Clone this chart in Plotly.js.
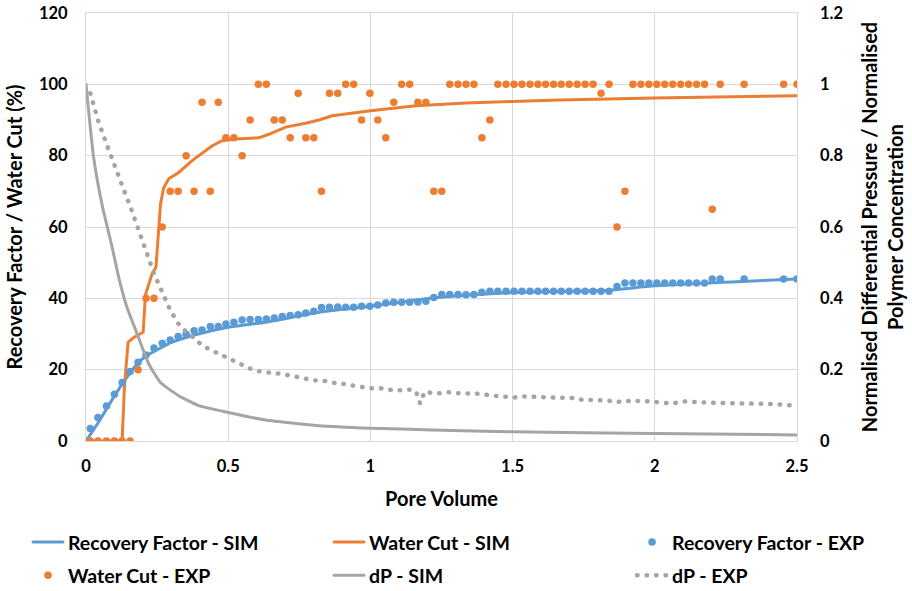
<!DOCTYPE html>
<html><head><meta charset="utf-8">
<script src="https://cdn.plot.ly/plotly-3.0.1.min.js"></script>
<style>
html,body{margin:0;padding:0;background:#fff;}
#chart{width:912px;height:591px;}
path.js-line{stroke-linecap:round;}
</style>
</head><body><div id="chart"></div>
<script>
// Pore volume of experimental samples (shared by RF and WC experiments)
var expPV = [0.015,0.042,0.072,0.100,0.127,0.155,0.183,0.211,0.239,0.268,
  0.296,0.324,0.352,0.380,0.408,0.437,0.465,0.492,0.520,0.549,
  0.577,0.606,0.634,0.662,0.690,0.718,0.746,0.773,0.801,0.828,
  0.856,0.885,0.913,0.941,0.969,0.998,1.026,1.054,1.082,1.110,
  1.138,1.167,1.195,1.223,1.251,1.279,1.308,1.336,1.364,1.392,
  1.420,1.448,1.477,1.505,1.533,1.561,1.589,1.616,1.644,1.671,
  1.699,1.727,1.755,1.783,1.811,1.839,1.867,1.895,1.923,1.951,
  1.979,2.007,2.035,2.063,2.091,2.119,2.147,2.175,2.202,2.230,
  2.314,2.453,2.500];
var rfExp = [3.5,6.6,9.8,13.1,16.4,19.5,22.1,24.1,26.1,27.4,
  28.3,29.3,29.9,30.9,31.1,32.1,32.1,32.8,33.3,33.9,
  34.1,34.1,34.2,34.5,34.9,35.2,35.4,35.9,36.4,37.4,
  37.5,37.6,37.5,37.5,37.8,37.8,38.1,38.7,38.9,38.9,
  38.9,39.0,39.2,40.2,41.1,41.1,41.1,41.0,41.1,41.7,
  42.0,42.0,42.0,42.0,42.0,42.0,42.0,42.0,42.0,42.0,
  42.0,42.0,42.0,42.0,42.0,42.0,43.3,44.3,44.3,44.3,
  44.3,44.3,44.3,44.3,44.3,44.3,44.3,44.3,45.4,45.4,
  45.4,45.4,45.4];
var wcExp = [0,0,0,0,0,0,20,40,40,60,
  70,70,80,70,95,70,95,85,85,80,
  90,100,100,90,90,85,97.5,85,85,70,
  97.5,97.5,100,100,90,97.5,90,85,95,100,
  100,95,95,70,70,100,100,100,100,85,
  90,100,100,100,100,100,100,100,100,100,
  100,100,100,100,97.5,100,60,70,100,100,
  100,100,100,100,100,100,100,100,65,100,
  100,100,100];

var rfSimPV = [0,0.045,0.092,0.138,0.185,0.215,0.244,0.303,0.385,0.5,0.631,0.819,1.0,1.218,1.5,1.839,2.0,2.5];
var rfSim = [0,5.4,11.6,17.2,22.1,24.0,25.3,27.7,29.8,31.9,33.3,36.1,37.8,40.1,41.6,42.3,43.5,45.4];

var wcSimPV = [0,0.127,0.135,0.148,0.168,0.191,0.201,0.209,0.232,0.246,0.256,0.262,0.273,0.291,0.326,0.373,0.444,0.479,0.526,0.608,0.643,0.702,0.772,0.819,0.866,1.0,1.16,1.336,1.5,1.664,2.0,2.5];
var wcSim = [0,0,15,27.7,29,30,30.5,41,46.8,48.7,60,66.4,71,73.5,75.3,78.6,82.8,84.2,84.7,85,86,88,89.1,90,91.2,92.6,94,94.8,95.2,95.6,96.2,96.8];

var dpSimPV = [0,0.01,0.026,0.056,0.092,0.115,0.144,0.18,0.221,0.262,0.326,0.397,0.5,0.631,0.819,1.0,1.218,1.5,2.0,2.5];
var dpSim = [1.0,0.92,0.80,0.664,0.543,0.459,0.375,0.30,0.216,0.164,0.127,0.099,0.080,0.059,0.043,0.036,0.031,0.026,0.021,0.017];

var dpExpPV = [0.015,0.042,0.072,0.100,0.127,0.155,0.183,0.211,0.239,0.268,
  0.296,0.324,0.352,0.380,0.408,0.437,0.465,0.492,0.520,0.549,
  0.577,0.606,0.634,0.662,0.690,0.718,0.746,0.775,0.803,0.828,
  0.856,0.885,0.913,0.941,0.969,0.998,1.026,1.054,1.082,1.110,
  1.138,1.160,1.175,1.190,1.223,1.251,1.279,1.308,1.336,1.364,
  1.392,1.420,1.448,1.477,1.505,1.533,1.561,1.589,1.617,1.645,
  1.671,1.699,1.727,1.755,1.783,1.811,1.839,1.867,1.895,1.923,
  1.951,1.979,2.007,2.035,2.063,2.091,2.119,2.147,2.175,2.202,
  2.230,2.258,2.286,2.314,2.342,2.370,2.398,2.426,2.453,2.482,2.500];
var dpExp = [0.975,0.90,0.833,0.778,0.717,0.659,0.595,0.533,0.47,0.417,
  0.367,0.33,0.306,0.289,0.268,0.256,0.246,0.234,0.223,0.213,
  0.203,0.196,0.192,0.190,0.188,0.183,0.178,0.173,0.170,0.169,
  0.167,0.160,0.160,0.155,0.150,0.148,0.148,0.147,0.141,0.142,
  0.144,0.140,0.105,0.138,0.134,0.134,0.137,0.134,0.134,0.134,
  0.132,0.128,0.126,0.126,0.122,0.125,0.124,0.121,0.121,0.121,
  0.121,0.122,0.117,0.114,0.115,0.115,0.113,0.109,0.113,0.111,
  0.113,0.111,0.109,0.107,0.105,0.111,0.111,0.110,0.108,0.107,
  0.107,0.106,0.106,0.105,0.104,0.104,0.104,0.103,0.101,0.100,0.101];

var BLUE = '#5B9BD5', ORANGE = '#ED7D31', GRAY = '#A5A5A5';
var FONT = 'Lato, "Open Sans", sans-serif';

var traces = [
  {name:'Recovery Factor - SIM', x:rfSimPV, y:rfSim, mode:'lines', line:{color:BLUE, width:3, shape:'spline', smoothing:0.6}, legend:'legend', legendgroup:'a'},
  {name:'Water Cut - SIM', x:wcSimPV, y:wcSim, mode:'lines', line:{color:ORANGE, width:3}, legend:'legend2', legendgroup:'b'},
  {name:'Recovery Factor - EXP', x:expPV, y:rfExp, mode:'markers', marker:{color:BLUE, size:7.5}, legend:'legend3', legendgroup:'c'},
  {name:'Water Cut - EXP', x:expPV, y:wcExp, mode:'markers', marker:{color:ORANGE, size:7.5}, legend:'legend', legendgroup:'d'},
  {name:'dP - SIM', x:dpSimPV, y:dpSim, yaxis:'y2', mode:'lines', line:{color:GRAY, width:3, shape:'spline', smoothing:0.5}, legend:'legend2', legendgroup:'e'},
  {name:'dP - EXP', x:dpExpPV, y:dpExp, yaxis:'y2', mode:'lines', line:{color:GRAY, width:4.5, dash:'0.5px,9px'}, legend:'legend3', legendgroup:'f'}
];

function leg(x){
  return {x:x, y:-0.191, xanchor:'left', yanchor:'top', orientation:'v', bgcolor:'rgba(0,0,0,0)',
    font:{family:FONT, size:19.5, color:'#000', weight:'bold'}, tracegroupgap:5, itemwidth:30};
}

var TF = {family:FONT, size:20, color:'#000', weight:'bold'};
var KF = {family:FONT, size:16.5, color:'#000', weight:'bold'};

var layout = {
  width:912, height:591,
  margin:{l:86, r:115, t:13, b:150, autoexpand:false},
  paper_bgcolor:'#fff', plot_bgcolor:'#fff',
  font:{family:FONT, size:16, color:'#000', weight:'bold'},
  showlegend:true,
  xaxis:{range:[0,2.5], dtick:0.5, tick0:0, showgrid:true, gridcolor:'#d9d9d9', gridwidth:1,
    zeroline:false, showline:true, linecolor:'#d9d9d9', linewidth:1, mirror:true, ticks:'',
    ticklabelstandoff:10, automargin:false, tickfont:KF,
    title:{text:'Pore Volume', standoff:17, font:TF}},
  yaxis:{range:[0,120], dtick:20, tick0:0, showgrid:true, gridcolor:'#d9d9d9', gridwidth:1,
    zeroline:false, showline:true, linecolor:'#d9d9d9', linewidth:1, mirror:true, ticks:'',
    ticklabelstandoff:14, automargin:false, tickfont:KF,
    title:{text:'Recovery Factor / Water Cut (%)', standoff:10, font:TF}},
  yaxis2:{range:[0,1.2], dtick:0.2, tick0:0, overlaying:'y', side:'right', showgrid:false,
    zeroline:false, showline:false, ticks:'', ticklabelstandoff:22, automargin:false, tickfont:KF,
    title:{text:'Normalised Differential Pressure / Normalised<br>Polymer Concentration', standoff:20, font:TF}},
  legend: leg(-0.0816),
  legend2: leg(0.3418),
  legend3: leg(0.768)
};

Plotly.newPlot('chart', traces, layout, {displayModeBar:false, staticPlot:true});
</script></body></html>
